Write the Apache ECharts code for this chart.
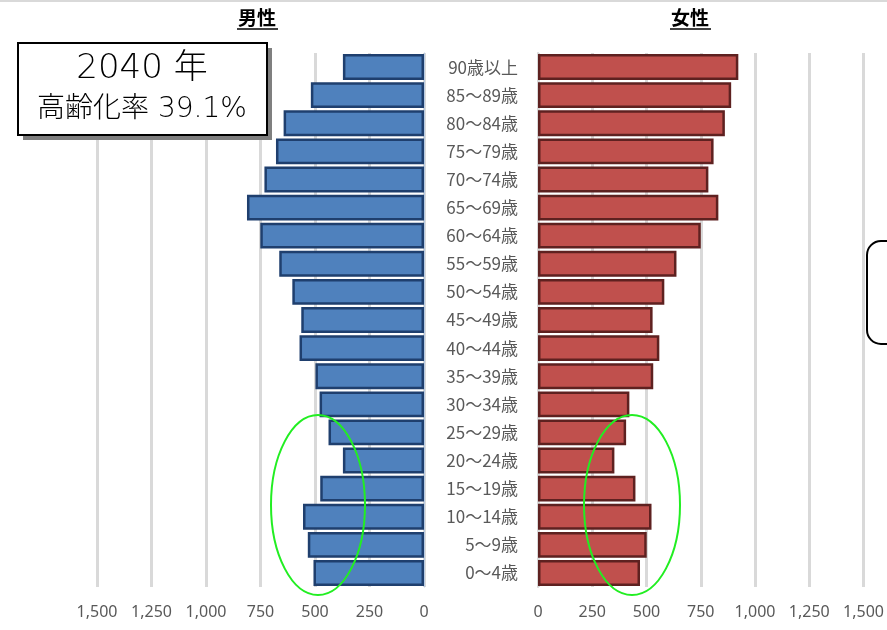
<!DOCTYPE html>
<html><head><meta charset="utf-8">
<script src="https://cdn.jsdelivr.net/npm/echarts@6/dist/echarts.min.js"></script>
<style>html,body{margin:0;padding:0;background:#fff}#c{width:887px;height:630px}</style>
</head><body><div id="c"></div>
<script>
const categories = ['0～4歳','5～9歳','10～14歳','15～19歳','20～24歳','25～29歳','30～34歳','35～39歳','40～44歳','45～49歳','50～54歳','55～59歳','60～64歳','65～69歳','70～74歳','75～79歳','80～84歳','85～89歳','90歳以上'];
const male   = [507, 533, 555, 476, 372, 438, 479, 498, 571, 563, 604, 664, 751, 812, 732, 679, 644, 519, 372];
const female = [470, 501, 523, 449, 352, 406, 421, 531, 559, 528, 582, 638, 750, 831, 785, 809, 861, 890, 923];
const tickMax = 1500, tickStep = 250;
const titleMale = '男性', titleFemale = '女性';
const boxLine1 = '2040 年', boxLine2 = '高齢化率 39.1%';

const chart = echarts.init(document.getElementById('c'), null, {renderer:'canvas'});
const fmt = v => v.toLocaleString('en-US');
const numFont = "'Liberation Sans Narrow','Noto Sans',sans-serif";
const xBase = {
  type:'value', min:0, max:tickMax, interval:tickStep,
  axisLine:{show:false}, axisTick:{show:false},
  splitLine:{show:true, lineStyle:{color:'#D9D9D9', width:3}},
  axisLabel:{formatter:fmt, color:'#595959', fontSize:16, margin:17, fontFamily:numFont}
};
const gridPos = {top:53, height:534};
const boxFont = "'DejaVu Sans','Noto Sans CJK JP',sans-serif";
chart.setOption({
  animation:false,
  grid:[
    Object.assign({left:97, width:327}, gridPos),
    Object.assign({left:538, width:327}, gridPos)
  ],
  xAxis:[
    Object.assign({gridIndex:0, inverse:true}, xBase),
    Object.assign({gridIndex:1}, xBase)
  ],
  yAxis:[
    {type:'category', gridIndex:0, data:categories, position:'right',
     axisLine:{show:true, lineStyle:{color:'#B8CCE4', width:1}}, axisTick:{show:false}, axisLabel:{show:false}},
    {type:'category', gridIndex:1, data:categories, position:'left',
     axisLine:{show:true, lineStyle:{color:'#D9D9D9', width:2}}, axisTick:{show:false},
     axisLabel:{color:'#595959', fontSize:17, margin:20, fontFamily:"'Noto Sans CJK JP',sans-serif"}}
  ],
  series:[
    {type:'bar', xAxisIndex:0, yAxisIndex:0, data:male, barCategoryGap:'8%',
     itemStyle:{color:'#4F81BD', borderColor:'#1F3F6E', borderWidth:2.5}},
    {type:'bar', xAxisIndex:1, yAxisIndex:1, data:female, barCategoryGap:'8%',
     itemStyle:{color:'#C0504D', borderColor:'#5E2120', borderWidth:2.5}}
  ],
  graphic:[
    {type:'rect', shape:{x:0,y:0,width:887,height:2}, style:{fill:'#D9D9D9'}, silent:true},
    {type:'text', x:257, y:18, style:{text:titleMale, font:"bold 19px 'Noto Sans CJK JP'", fill:'#000', textAlign:'center', textVerticalAlign:'middle'}},
    {type:'line', shape:{x1:237,y1:29,x2:278,y2:29}, style:{stroke:'#000', lineWidth:1.3}},
    {type:'text', x:690, y:18, style:{text:titleFemale, font:"bold 19px 'Noto Sans CJK JP'", fill:'#000', textAlign:'center', textVerticalAlign:'middle'}},
    {type:'line', shape:{x1:670,y1:29,x2:711,y2:29}, style:{stroke:'#000', lineWidth:1.3}},
    {type:'rect', shape:{x:23,y:48,width:249,height:92}, z:10, style:{fill:'#7F7F7F'}},
    {type:'rect', shape:{x:18,y:43,width:249,height:92}, z:11, style:{fill:'#fff', stroke:'#000', lineWidth:2}},
    {type:'text', x:142, y:69, z:12, style:{text:boxLine1, font:"200 34px " + boxFont, fill:'#000', textAlign:'center', textVerticalAlign:'middle'}},
    {type:'text', x:142, y:110, z:12, style:{text:boxLine2, font:"200 28px " + boxFont, fill:'#000', textAlign:'center', textVerticalAlign:'middle'}},
    {type:'ellipse', shape:{cx:318, cy:505, rx:47, ry:90}, z:20, style:{fill:null, stroke:'#22EE22', lineWidth:2}},
    {type:'ellipse', shape:{cx:632, cy:505, rx:48, ry:90}, z:20, style:{fill:null, stroke:'#22EE22', lineWidth:2}},
    {type:'rect', shape:{x:867,y:241,width:60,height:103,r:14}, z:20, style:{fill:null, stroke:'#000', lineWidth:2}}
  ]
});
</script></body></html>
